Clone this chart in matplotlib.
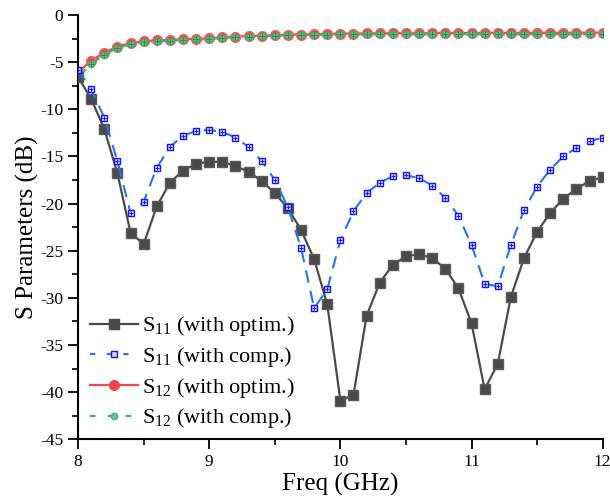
import numpy as np
import matplotlib
matplotlib.use("Agg")
import matplotlib.pyplot as plt
from matplotlib.lines import Line2D

plt.rcParams['font.family'] = ['Liberation Serif', 'DejaVu Serif']
plt.rcParams['mathtext.fontset'] = 'custom'
plt.rcParams['mathtext.rm'] = 'Liberation Serif'
plt.rcParams['mathtext.it'] = 'Liberation Serif:italic'
plt.rcParams['axes.unicode_minus'] = False

freq = np.round(np.arange(8.0, 12.0001, 0.1), 1)

s11_optim = [-6.6, -8.9, -12.1, -16.8, -23.1, -24.3, -20.3, -17.8, -16.5, -15.8,
             -15.55, -15.6, -16.0, -16.65, -17.6, -18.9, -20.5, -22.8, -25.9, -30.7,
             -40.9, -40.3, -31.9, -28.4, -26.5, -25.6, -25.35, -25.8, -26.9, -29.0,
             -32.7, -39.7, -37.0, -29.9, -25.8, -23.0, -21.0, -19.5, -18.45, -17.6,
             -17.2]
s11_comp = [-5.8, -7.9, -10.9, -15.5, -21.0, -19.8, -16.2, -14.0, -12.8, -12.3,
            -12.2, -12.4, -13.0, -14.0, -15.5, -17.5, -20.4, -24.7, -31.1, -29.1,
            -23.9, -20.8, -18.9, -17.8, -17.1, -17.0, -17.3, -18.1, -19.4, -21.3,
            -24.4, -28.5, -28.8, -24.4, -20.7, -18.2, -16.4, -15.0, -14.1, -13.4,
            -13.0]
s12_optim = [-6.1, -4.85, -4.0, -3.35, -3.0, -2.8, -2.7, -2.65, -2.58, -2.55,
             -2.48, -2.37, -2.3, -2.23, -2.19, -2.16, -2.09, -2.08, -2.05, -2.0,
             -1.98, -1.97, -1.96, -1.95, -1.95, -1.94, -1.94, -1.93, -1.93, -1.92,
             -1.92, -1.91, -1.91, -1.9, -1.9, -1.9, -1.89, -1.89, -1.88, -1.88,
             -1.88]
s12_comp = [-6.6, -5.2, -4.2, -3.5, -3.1, -2.9, -2.8, -2.72, -2.65, -2.6,
            -2.55, -2.45, -2.37, -2.3, -2.25, -2.2, -2.15, -2.13, -2.1, -2.08,
            -2.07, -2.06, -2.06, -2.05, -2.05, -2.05, -2.05, -2.05, -2.05, -2.05,
            -2.05, -2.05, -2.05, -2.05, -2.05, -2.05, -2.05, -2.05, -2.05, -2.05,
            -2.05]

labels = ['S$_{11}$ (with optim.)', 'S$_{11}$ (with comp.)',
          'S$_{12}$ (with optim.)', 'S$_{12}$ (with comp.)']

fig = plt.figure(figsize=(6.1, 4.98), dpi=100)
ax = fig.add_axes([0.128, 0.118, 0.86, 0.852])

ax.plot(freq, s12_comp, color='#3cb371', lw=1.6, ls=(0, (5, 3)), marker='o', ms=4.5,
        mfc='#6cc890', mec='#3cb371', zorder=3)
ax.plot(freq, s12_comp, ls='none', marker='+', ms=4, mew=0.8, color='#2a8a55', zorder=3.1)
ax.plot(freq, s12_optim, color='#f04848', lw=1.6, marker='o', ms=7,
        mfc='#f04848', mec='#f26060', zorder=2.5)
ax.plot(freq, s11_optim, color='#4a4a4a', lw=1.6, marker='s', ms=6.5,
        mfc='#4a4a4a', mec='#5a5a5a', zorder=4)
ax.plot(freq, s11_comp, color='#1f78e8', lw=1.5, ls=(0, (6, 4)), marker='s', ms=4,
        mfc='#d8d8ff', mec='#1010ff', mew=1.0, zorder=5)
ax.plot(freq, s11_comp, ls='none', marker='+', ms=3.5, mew=0.7, color='#1010ff', zorder=5.1)

handles = [
    Line2D([], [], color='#4a4a4a', lw=1.6, marker='s', ms=6.5, mfc='#4a4a4a'),
    Line2D([], [], color='#1f78e8', lw=1.5, ls=(0, (2.5, 5.5)), marker='s', ms=4,
           mfc='#d8d8ff', mec='#1010ff'),
    Line2D([], [], color='#f04848', lw=1.6, marker='o', ms=7, mfc='#f04848'),
    Line2D([], [], color='#3cb371', lw=1.6, ls=(0, (2.5, 5.5)), marker='o', ms=4.5,
           mfc='#6cc890', mec='#3cb371'),
]
ax.legend(handles, labels, loc='lower left', bbox_to_anchor=(0.005, 0.0),
          frameon=False, fontsize=16, handlelength=2.2, handletextpad=0.15,
          labelspacing=0.3, borderaxespad=0.0)

ax.set_xlim(8, 12)
ax.set_ylim(-45, 0)
ax.set_xticks([8, 9, 10, 11, 12])
ax.set_yticks(np.arange(-45, 1, 5))
ax.set_xticks(np.arange(8.5, 12, 1), minor=True)
ax.set_yticks(np.arange(-42.5, 0, 5), minor=True)
ax.tick_params(which='major', direction='out', length=7, width=1.3, labelsize=12.5)
ax.tick_params(which='minor', direction='out', length=4, width=1.2)
for s in ['top', 'right']:
    ax.spines[s].set_visible(False)
for s in ['left', 'bottom']:
    ax.spines[s].set_linewidth(1.5)

ax.set_xlabel('Freq (GHz)', fontsize=18, labelpad=2)
ax.set_ylabel('S Parameters (dB)', fontsize=18, labelpad=1)

fig.savefig('out.png', dpi=100)
